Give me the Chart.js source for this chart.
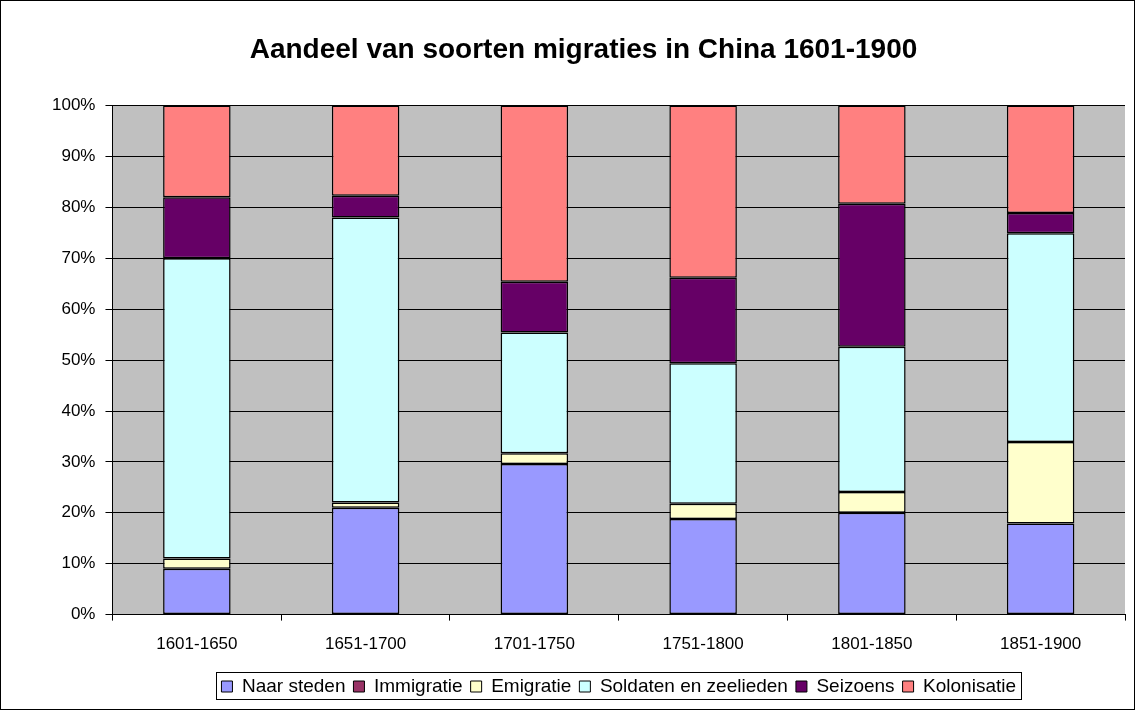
<!DOCTYPE html>
<html>
<head>
<meta charset="utf-8">
<script src="https://cdn.jsdelivr.net/npm/chart.js@4.4.0/dist/chart.umd.min.js"></script>
<style>
  html, body { margin: 0; padding: 0; background: #fff; }
  canvas { display: block; }
</style>
</head>
<body>
<canvas id="myChart" width="1135" height="710"></canvas>
<script>
const periods = ['1601-1650', '1651-1700', '1701-1750', '1751-1800', '1801-1850', '1851-1900'];
const naarSteden = [9, 21, 29.6, 18.8, 20, 17.9];
const immigratie = [0, 0, 0, 0, 0, 0];
const emigratie = [2, 1, 2.1, 3, 4.1, 16];
const soldaten = [59, 56, 23.7, 27.6, 28.5, 41];
const seizoens = [12, 4.3, 10, 16.8, 28.1, 4];
const kolonisatie = [18, 17.7, 34.6, 33.8, 19.3, 21.1];
const yTicks = [0, 10, 20, 30, 40, 50, 60, 70, 80, 90, 100];

const FONT = 'Arial, "Liberation Sans", sans-serif';

function series(label, values, color) {
  return {
    label: label,
    data: values,
    backgroundColor: color,
    borderColor: '#000',
    borderWidth: 1.5,
    borderSkipped: false,
    barPercentage: 0.4,
    categoryPercentage: 1
  };
}

// grey plot area, legend frame and outer frame, like the spreadsheet chart
const frames = {
  id: 'frames',
  afterLayout(chart) {
    // centre the legend under the plot area, not the whole canvas
    const lg = chart.legend;
    const a = chart.chartArea;
    if (!lg) return;
    lg.left = a.left;
    lg.right = a.right;
  },
  beforeDraw(chart) {
    const { ctx, chartArea: a } = chart;
    ctx.save();
    ctx.fillStyle = '#fff';
    ctx.fillRect(0, 0, chart.width, chart.height);
    ctx.fillStyle = '#C0C0C0';
    ctx.fillRect(a.left, a.top, a.right - a.left, a.bottom - a.top);
    ctx.restore();
  },
  afterDraw(chart) {
    const { ctx } = chart;
    const lg = chart.legend;
    ctx.save();
    ctx.strokeStyle = '#000';
    ctx.lineWidth = 1;
    ctx.strokeRect(0.5, 0.5, chart.width - 1, chart.height - 1);
    if (lg && lg.lineWidths && lg.lineWidths.length) {
      const mid = (lg.left + lg.right) / 2;
      const w = lg.lineWidths[0];
      const x0 = Math.round(mid - w / 2 - 1);
      const y0 = Math.round(lg.top + 3);
      ctx.strokeRect(x0 + 0.5, y0 + 0.5, Math.round(w + 2), 27);
    }
    ctx.restore();
  }
};

const ctx = document.getElementById('myChart').getContext('2d');
new Chart(ctx, {
  type: 'bar',
  data: {
    labels: periods,
    datasets: [
      series('Naar steden', naarSteden, '#9999FF'),
      series('Immigratie', immigratie, '#993366'),
      series('Emigratie', emigratie, '#FFFFCC'),
      series('Soldaten en zeelieden', soldaten, '#CCFFFF'),
      series('Seizoens', seizoens, '#660066'),
      series('Kolonisatie', kolonisatie, '#FF8080')
    ]
  },
  options: {
    responsive: false,
    animation: false,
    layout: { padding: { left: 42, right: 10, top: 0, bottom: 4 } },
    plugins: {
      title: {
        display: true,
        text: 'Aandeel van soorten migraties in China 1601-1900',
        color: '#000',
        font: { family: FONT, size: 28, weight: 'bold' },
        padding: { top: 33, bottom: 39 }
      },
      legend: {
        position: 'bottom',
        labels: {
          color: '#000',
          font: { family: FONT, size: 19 },
          boxWidth: 11,
          boxHeight: 11,
          padding: 8,
          generateLabels(chart) {
            return chart.data.datasets.map((d, i) => ({
              text: d.label,
              fillStyle: d.backgroundColor,
              strokeStyle: '#000',
              lineWidth: 1,
              datasetIndex: i
            }));
          }
        }
      },
      tooltip: { enabled: false }
    },
    scales: {
      x: {
        stacked: true,
        grid: {
          display: true,
          offset: true,
          drawOnChartArea: false,
          color: '#000',
          tickLength: 6
        },
        border: { color: '#000' },
        ticks: {
          color: '#000',
          font: { family: FONT, size: 17 },
          padding: 14,
          maxRotation: 0
        }
      },
      y: {
        stacked: true,
        min: 0,
        max: 100,
        afterBuildTicks(scale) {
          scale.ticks = yTicks.map(v => ({ value: v }));
        },
        grid: {
          color: '#000',
          lineWidth: 1,
          tickLength: 7
        },
        border: { color: '#000' },
        ticks: {
          color: '#000',
          font: { family: FONT, size: 17 },
          padding: 10,
          callback: v => v + '%'
        }
      }
    }
  },
  plugins: [frames]
});
</script>
</body>
</html>
